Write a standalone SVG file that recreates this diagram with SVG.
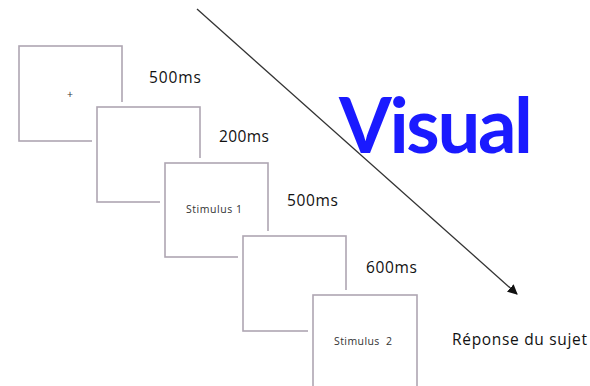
<svg xmlns="http://www.w3.org/2000/svg" width="590" height="386" viewBox="0 0 590 386">
<style>
.halo{fill:#fff;stroke:#fff;stroke-width:10}
.box{fill:none;stroke:#aea6b2;stroke-width:1.6}
.t{font-family:"Open Sans","Liberation Sans",sans-serif;font-size:15.5px;fill:#111}
.s{font-family:"Open Sans","Liberation Sans",sans-serif;font-size:10.5px;fill:#333}
</style>
<defs>
<marker id="ah" markerWidth="10" markerHeight="10" refX="9" refY="5" orient="auto" markerUnits="userSpaceOnUse" viewBox="0 0 10 10">
<path d="M0,0 L10,5 L0,10 z" fill="#111"/>
</marker>
</defs>
<g id="connectors">
<line x1="197" y1="9" x2="517" y2="294" stroke="#333" stroke-width="1.3" marker-end="url(#ah)"/>
</g>
<g id="box1">
<rect class="halo" x="19" y="46" width="103" height="95"/>
<rect class="box" x="19" y="46" width="103" height="95"/>
<text class="s" x="70" y="98" text-anchor="middle" font-size="9" fill="#222">+</text>
</g>
<g id="box2">
<rect class="halo" x="97" y="107" width="103" height="95"/>
<rect class="box" x="97" y="107" width="103" height="95"/>
</g>
<g id="box3">
<rect class="halo" x="165" y="163" width="103" height="94"/>
<rect class="box" x="165" y="163" width="103" height="94"/>
<text class="s" x="186" y="213" textLength="56">Stimulus 1</text>
</g>
<g id="box4">
<rect class="halo" x="243" y="236" width="103" height="95"/>
<rect class="box" x="243" y="236" width="103" height="95"/>
</g>
<g id="box5">
<rect class="halo" x="313" y="295" width="104" height="100"/>
<rect class="box" x="313" y="295" width="104" height="100"/>
<text class="s" x="334" y="345" textLength="58" xml:space="preserve">Stimulus  2</text>
</g>
<g id="labels">
<text class="t" x="149" y="83" textLength="52">500ms</text>
<text class="t" x="219" y="142" textLength="50">200ms</text>
<text class="t" x="287" y="206" textLength="51">500ms</text>
<text class="t" x="366" y="273" textLength="51">600ms</text>
<text class="t" x="452" y="345" textLength="135" font-size="15">Réponse du sujet</text>
<text x="339" y="153" font-family="Lato,'Open Sans',sans-serif" font-weight="bold" font-size="76" fill="#1a1aff" textLength="194">Visual</text>
</g>
</svg>
